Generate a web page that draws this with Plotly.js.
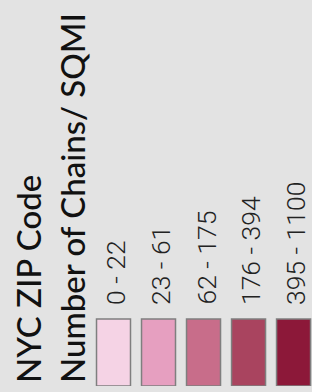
<!DOCTYPE html>
<html>
<head>
<meta charset="utf-8">
<script src="https://cdn.plot.ly/plotly-3.0.1.min.js"></script>
<style>html,body{margin:0;padding:0;background:#e3e3e3;}#chart{width:312px;height:392px;}</style>
</head>
<body>
<div id="chart"></div>
<script>
// Legend bins (choropleth classes)
const binLabels = ["0 - 22", "23 - 61", "62 - 175", "176 - 394", "395 - 1100"];
const binColors = ["#f5d3e5", "#e69fc0", "#c86d8a", "#a9445f", "#8c1839"];
const swatchSize = [1, 1, 1, 1, 1];
const titleLines = ["NYC ZIP Code", "Number of Chains/ SQMI"];

const W = 312, H = 392;
const mL = 91, mR = 0, mT = 0, mB = 6;
const plotW = W - mL - mR, plotH = H - mT - mB;
const pxToPaperX = px => (px - mL) / plotW;
const pxToPaperY = py => (H - mB - py) / plotH;

const trace = {
  type: "bar",
  x: binLabels,
  y: swatchSize,
  marker: { color: binColors, line: { color: "#7f7f7f", width: 1.5 } },
  hoverinfo: "skip",
  showlegend: false
};

const labelFont = { family: "Roboto, 'Open Sans', sans-serif", size: 26.5, color: "#222", weight: 300 };
const titleFont = { family: "Lato, 'Open Sans', sans-serif", size: 33, color: "#111", weight: 500 };

const annotations = binLabels.map(lbl => ({
  x: lbl, y: 1, xref: "x", yref: "y",
  text: lbl, showarrow: false, textangle: -90,
  xanchor: "center", yanchor: "bottom", yshift: 12, xshift: 2,
  font: labelFont
}));

const titleX = [6, 50];
titleLines.forEach((t, i) => annotations.push({
  xref: "paper", yref: "paper",
  x: pxToPaperX(titleX[i]), y: pxToPaperY(385),
  text: t, showarrow: false, textangle: -90,
  xanchor: "left", yanchor: "bottom",
  font: titleFont
}));

const layout = {
  width: W, height: H,
  margin: { l: mL, r: mR, t: mT, b: mB, pad: 0 },
  paper_bgcolor: "#e3e3e3",
  plot_bgcolor: "#e3e3e3",
  bargap: 0.245,
  xaxis: { type: "category", range: [-0.5, 4.41], visible: false, fixedrange: true },
  yaxis: { range: [0, plotH / 67], visible: false, fixedrange: true },
  annotations: annotations,
  showlegend: false
};

Plotly.newPlot("chart", [trace], layout, { staticPlot: true, displayModeBar: false });
</script>
</body>
</html>
